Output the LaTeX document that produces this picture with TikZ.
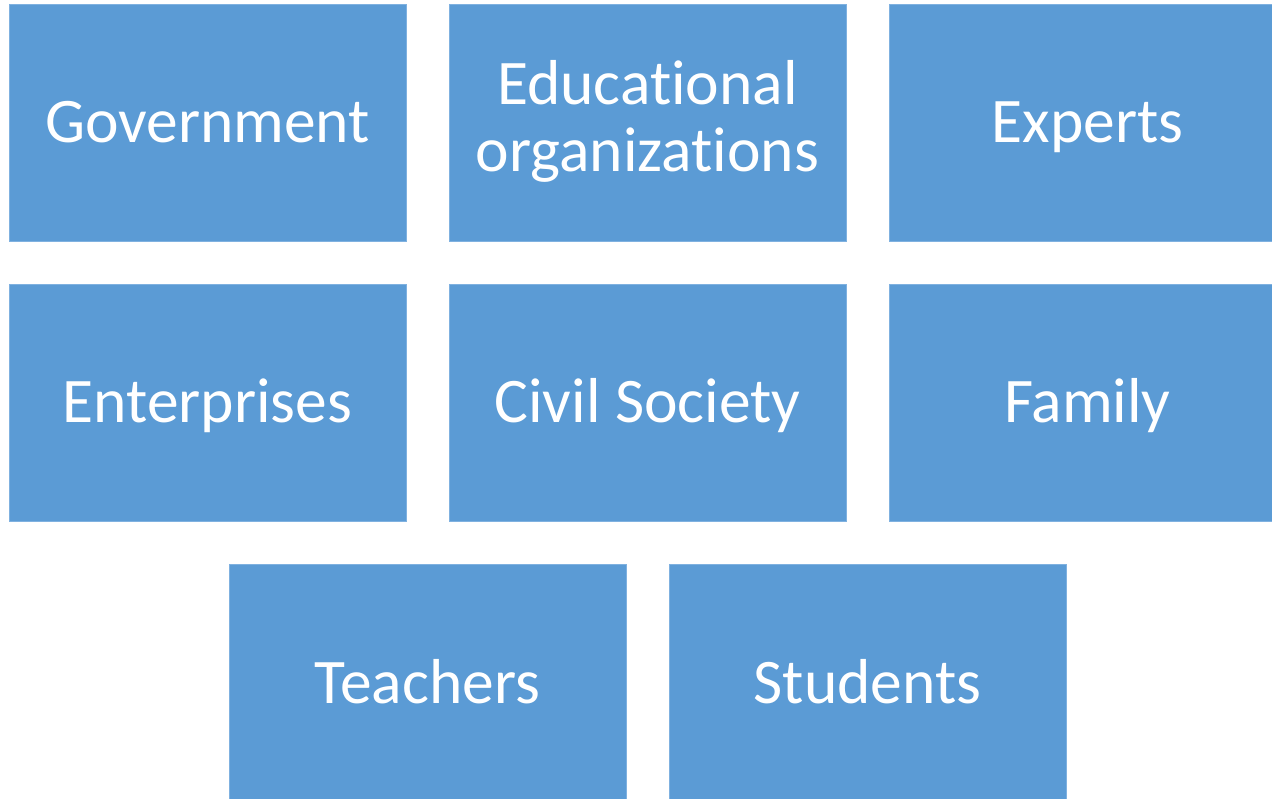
\documentclass[tikz,border=0pt]{standalone}
\usepackage{fontspec}
\setmainfont{Carlito}[RawFeature={-liga}]
\definecolor{boxblue}{HTML}{5B9BD5}
\definecolor{boxedge}{HTML}{7FB1E0}
\begin{document}
\begin{tikzpicture}[x=1pt,y=-1pt,
  card/.style={fill=boxblue,draw=boxedge,line width=0.8pt,minimum width=397pt,minimum height=237pt,inner sep=0pt,
    text=white,align=center,font=\fontsize{63.5}{67}\selectfont},
  cardone/.style={card,text height=41pt,text depth=0pt}]
\useasboundingbox (0,0) rectangle (1272,799);
\clip (0,0) rectangle (1272,799);
\node[cardone] (gov) at (207.5,122.5) {Government};
\node[card] (edu) at (647.5,122.5) {\raisebox{-2.6pt}[\height][\depth]{\begin{tabular}{@{}c@{}}Educational\\organizations\end{tabular}}};
\node[cardone] (exp) at (1087.5,122.5) {Experts};
\node[cardone] (ent) at (207.5,402.5) {Enterprises};
\node[cardone] (civ) at (647.5,402.5) {Civil Society};
\node[cardone] (fam) at (1087.5,402.5) {Family};
\node[cardone] (tea) at (427.5,682.5) {Teachers};
\node[cardone] (stu) at (867.5,682.5) {Students};
\end{tikzpicture}
\end{document}
